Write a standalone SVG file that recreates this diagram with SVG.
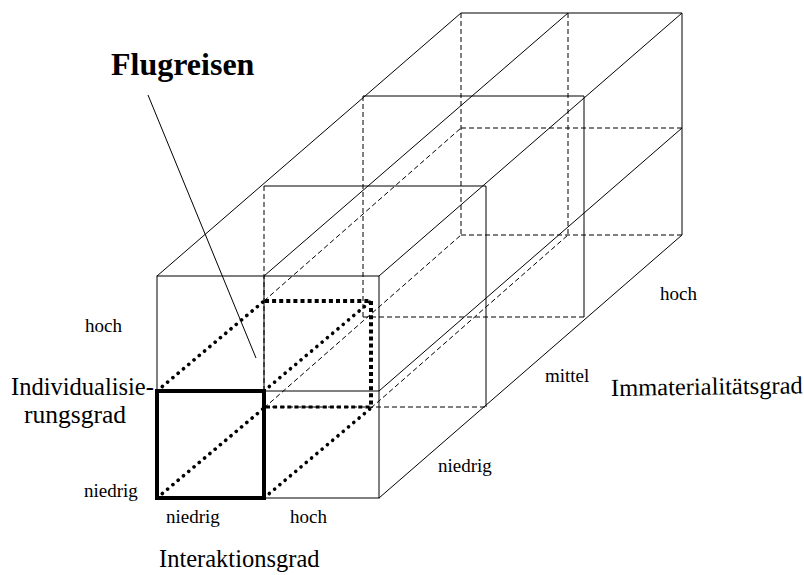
<svg xmlns="http://www.w3.org/2000/svg" width="804" height="575" viewBox="0 0 804 575">
<style>
.s{stroke:#000;stroke-width:1;fill:none}
.d{stroke:#000;stroke-width:1;fill:none;stroke-dasharray:5 3}
.dot{stroke:#000;stroke-width:3.6;fill:none;stroke-linecap:round;stroke-dasharray:0.1 6.8}
.sq{stroke:#000;stroke-width:4;fill:none;stroke-dasharray:4 3.1}
.sqb{stroke:#000;stroke-width:3;fill:none;stroke-dasharray:4 3.1}
.t{font-family:"Liberation Serif","Times New Roman",serif;fill:#000}
</style>
<rect width="804" height="575" fill="#fff"/>
<g id="hidden-edges">
<line class="d" x1="461" y1="13" x2="461" y2="235"/>
<line class="d" x1="461" y1="235" x2="682" y2="235"/>
<line class="d" x1="461" y1="128" x2="682" y2="128"/>
<line class="d" x1="568" y1="13" x2="568" y2="235"/>
<line class="d" x1="264" y1="186" x2="264" y2="407"/>
<line class="d" x1="264" y1="407" x2="486" y2="407"/>
<line class="d" x1="363" y1="96" x2="363" y2="317"/>
<line class="d" x1="363" y1="317" x2="584" y2="317"/>
<line class="d" x1="264" y1="301" x2="461" y2="128"/>
<line class="d" x1="264" y1="408" x2="461" y2="235"/>
<line class="d" x1="371" y1="408" x2="568" y2="235"/>
</g>
<g id="box">
<rect class="s" x="157" y="276" width="222" height="222"/>
<line class="s" x1="264" y1="276" x2="264" y2="498"/>
<line class="s" x1="157" y1="391" x2="379" y2="391"/>
<line class="s" x1="157" y1="276" x2="461" y2="13"/>
<line class="s" x1="264" y1="276" x2="568" y2="13"/>
<line class="s" x1="379" y1="276" x2="682" y2="13"/>
<line class="s" x1="379" y1="391" x2="682" y2="128"/>
<line class="s" x1="379" y1="498" x2="682" y2="235"/>
<polyline class="s" points="461,13 682,13 682,235"/>
<polyline class="s" points="264,186 486,186 486,407"/>
<polyline class="s" points="363,96 584,96 584,317"/>
</g>
<g id="cell">
<line class="dot" x1="157" y1="391" x2="264" y2="301"/>
<line class="dot" x1="264" y1="391" x2="371" y2="301"/>
<line class="dot" x1="157" y1="498" x2="264" y2="408"/>
<line class="dot" x1="264" y1="498" x2="371" y2="408"/>
<line class="sq" x1="265" y1="301" x2="371" y2="301"/>
<line class="sq" x1="371" y1="301" x2="371" y2="408"/>
<line class="sqb" x1="266" y1="407" x2="371" y2="407"/>
<rect x="157" y="391" width="107" height="107" fill="none" stroke="#000" stroke-width="4"/>
</g>
<g id="connectors">
<line class="s" x1="148" y1="95" x2="256" y2="358"/>
</g>
<g id="labels">
<text class="t" x="111" y="75" font-size="32" font-weight="bold">Flugreisen</text>
<text class="t" x="85" y="332" font-size="19">hoch</text>
<text class="t" x="11" y="395" font-size="24.5">Individualisie-</text>
<text class="t" x="24" y="423" font-size="25.5">rungsgrad</text>
<text class="t" x="84" y="497" font-size="19">niedrig</text>
<text class="t" x="166" y="523" font-size="19">niedrig</text>
<text class="t" x="290" y="523" font-size="19">hoch</text>
<text class="t" x="159" y="567" font-size="24.5">Interaktionsgrad</text>
<text class="t" x="438" y="472" font-size="19">niedrig</text>
<text class="t" x="545" y="382" font-size="19">mittel</text>
<text class="t" x="611" y="396" font-size="24.5" transform="rotate(-0.8 611 396)">Immaterialitätsgrad</text>
<text class="t" x="660" y="300" font-size="19">hoch</text>
</g>
</svg>
